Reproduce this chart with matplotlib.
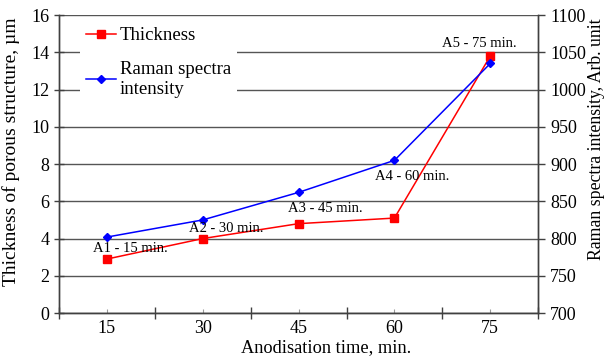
import numpy as np
import matplotlib.pyplot as plt

# anodisation time categories (min.)
times = ['15', '30', '45', '60', '75']
thickness = [2.9, 4.0, 4.8, 5.1, 13.8]          # um, left axis
raman = [802, 825, 862, 905, 1035]              # arb. unit, right axis
labels = ['A1 - 15 min.', 'A2 - 30 min.', 'A3 - 45 min.', 'A4 - 60 min.', 'A5 - 75 min.']
# label offsets from the blue points, in points
label_offsets = [(17, -8), (17, -6.5), (19.5, -11.5), (13, -11.5), (-8, 14.5)]

plt.rcParams['font.family'] = ['Liberation Serif', 'DejaVu Serif']

fig = plt.figure(figsize=(6.12, 3.59), dpi=100)
ax = fig.add_axes([0.0964, 0.128, 0.783, 0.830])
ax2 = ax.twinx()

x = np.arange(len(times))
ax.plot(x, thickness, color='red', marker='s', markersize=6, linewidth=1.1, label='Thickness')
ax2.plot(x, raman, color='blue', marker='D', markersize=4, linewidth=1.1,
         label='Raman spectra\nintensity')

ax.set_xlim(-0.5, len(times) - 0.5)
ax.set_ylim(0, 16)
ax.set_yticks(np.arange(0, 17, 2))
ax2.set_ylim(700, 1100)
ax2.set_yticks(np.arange(700, 1101, 50))

# category labels centred, tick marks on the boundaries
ax.set_xticks(x)
ax.set_xticklabels(times)
ax.set_xticks(np.arange(-0.5, len(times)), minor=True)
ax.tick_params(axis='x', which='major', length=3, width=0.8, color='#999999',
               direction='in', labelsize=13, pad=5)
ax.tick_params(axis='x', which='minor', length=8, width=1, color='#404040', direction='inout')
ax.tick_params(axis='y', labelsize=13, length=7, width=1, color='#404040', direction='inout')
ax2.tick_params(axis='y', labelsize=13, length=5, width=1, color='#404040', direction='out')

ax.yaxis.grid(True, color='#555555', linewidth=1)
ax.set_axisbelow(True)

for a in (ax, ax2):
    a.spines['top'].set_visible(False)
    for s in ('left', 'right', 'bottom'):
        a.spines[s].set_color('#404040')
        a.spines[s].set_linewidth(1)

ax.set_xlabel('Anodisation time, min.', fontsize=13.2)
ax.xaxis.set_label_coords(0.557, -0.089)
ax.set_ylabel('Thickness of porous structure, µm', fontsize=14)
ax.yaxis.set_label_coords(-0.082, 0.54)
ax2.set_ylabel('Raman spectra intensity, Arb. unit', fontsize=12.8)
ax2.yaxis.set_label_coords(1.104, 0.584)

for xi, yi, txt, off in zip(x, raman, labels, label_offsets):
    ax2.annotate(txt, xy=(xi, yi), xytext=off, textcoords='offset points',
                 ha='center', va='center', fontsize=10.5)

h1, l1 = ax.get_legend_handles_labels()
h2, l2 = ax2.get_legend_handles_labels()
leg = ax2.legend(h1 + h2, l1 + l2, loc='upper left', bbox_to_anchor=(0.025, 1.01),
                 fontsize=13.5, frameon=True, fancybox=False, handlelength=1.6,
                 handletextpad=0.2, labelspacing=0.9, borderpad=0.3)
leg.get_frame().set_edgecolor('none')
leg.get_frame().set_facecolor('white')
leg.get_frame().set_alpha(1)

fig.savefig('out.png', dpi=100)
